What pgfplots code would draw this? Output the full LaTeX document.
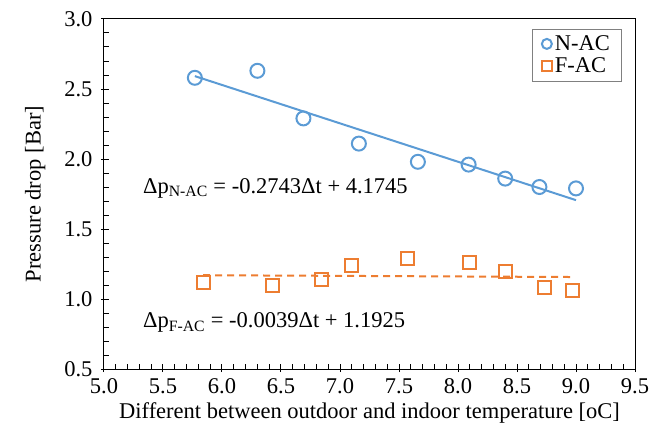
\documentclass[border=0pt]{standalone}
\usepackage{fontspec}
\setmainfont{Liberation Serif}
\usepackage{pgfplots}
\pgfplotsset{compat=1.18}

\definecolor{nac}{HTML}{5B9BD5}
\definecolor{fac}{HTML}{ED7D31}
\newcommand{\bigfont}{\fontsize{22.5}{26}\selectfont}

\begin{document}
\begin{tikzpicture}
\begin{axis}[
    scale only axis,
    width=531pt, height=350pt,
    xmin=5, xmax=9.5, ymin=0.5, ymax=3,
    xtick={5,5.5,...,9.5}, ytick={0.5,1,...,3},
    minor x tick num=4, minor y tick num=4,
    axis line style={line width=1pt},
    tick style={black, line width=1pt},
    tick align=inside,
    major tick length=8pt, minor tick length=5pt,
    major x tick style={yshift=-3pt},
    major y tick style={xshift=-3pt},
    xtick pos=bottom, ytick pos=left,
    /pgf/number format/.cd, fixed, fixed zerofill, precision=1, assume math mode=true,
    /pgfplots/.cd,
    tick label style={font=\bigfont},
    label style={font=\bigfont},
    xticklabel style={yshift=-6pt},
    yticklabel style={xshift=-8pt},
    xlabel={Different between outdoor and indoor temperature [oC]},
    ylabel={Pressure drop [Bar]},
    xlabel style={yshift=-2pt},
    ylabel style={yshift=12pt},
    legend style={at={(rel axis cs:0.976,0.972)}, anchor=north east,
        draw=gray, line width=0.8pt, font=\bigfont, inner xsep=9pt, inner ysep=3.5pt,
        row sep=0pt, nodes={inner xsep=3pt, inner ysep=3pt}},
    legend image code/.code={\draw[#1, mark size=5pt] plot coordinates {(0pt,0pt)};},
    legend cell align=left,
    clip=false,
]
\addplot[only marks, mark=o, mark size=7pt, nac, mark options={line width=2pt}] coordinates {
    (5.77, 2.58) (6.30, 2.63) (6.69, 2.29) (7.16, 2.11) (7.66, 1.98)
    (8.09, 1.96) (8.40, 1.86) (8.69, 1.80) (9.00, 1.79)
};
\addlegendentry{N-AC}
\addplot[only marks, mark=square, mark size=6.5pt, fac, mark options={line width=2pt}] coordinates {
    (5.84, 1.12) (6.43, 1.10) (6.84, 1.14) (7.10, 1.24) (7.57, 1.29)
    (8.10, 1.26) (8.40, 1.20) (8.73, 1.08) (8.97, 1.06)
};
\addlegendentry{F-AC}
% linear trend lines
\addplot[forget plot, nac, line width=2pt] coordinates {(5.77, 2.592) (9.00, 1.706)};
\addplot[forget plot, fac, line width=2pt, dash pattern=on 7pt off 5pt] coordinates {(5.84, 1.170) (8.97, 1.157)};

\node[anchor=west, font=\bigfont, inner sep=0pt] at (axis cs:5.33,1.79) {Δp\textsubscript{N-AC} = -0.2743Δt + 4.1745};
\node[anchor=west, font=\bigfont, inner sep=0pt] at (axis cs:5.33,0.83) {Δp\textsubscript{F-AC} = -0.0039Δt + 1.1925};

% page frame to match the reference margins
\path (rel axis cs:0,0) ++(-104pt,-73pt) (rel axis cs:1,1) ++(26pt,19pt);
\end{axis}
\end{tikzpicture}
\end{document}
